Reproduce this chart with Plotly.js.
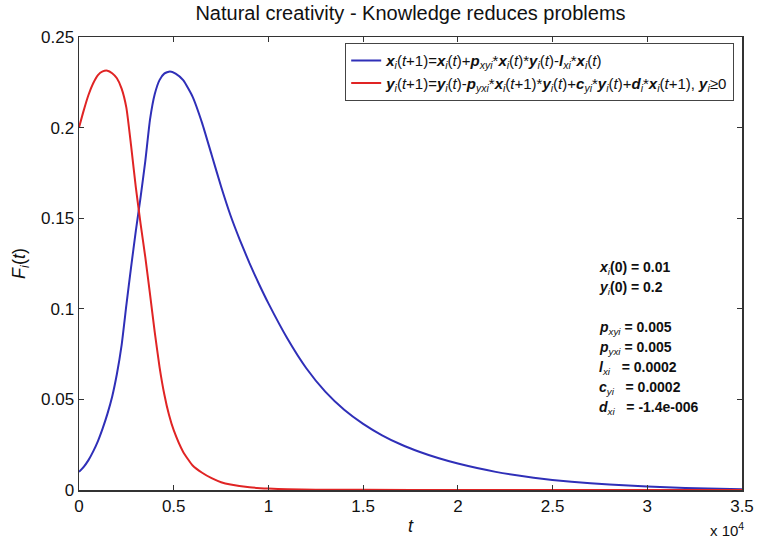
<!DOCTYPE html>
<html>
<head>
<meta charset="utf-8">
<script src="https://cdn.plot.ly/plotly-3.0.1.min.js"></script>
<style>html,body{margin:0;padding:0;background:#fff;}#chart{width:757px;height:542px;}</style>
</head>
<body>
<div id="chart"></div>
<script>
// time steps (t) and values
const tBlue = [0, 250, 500, 750, 1000, 1250, 1500, 1750, 2000, 2250, 2500, 2750, 3000, 3250, 3500, 3750, 4000, 4250, 4500, 4800, 5100, 5500, 6000, 6500, 7000, 7500, 8000, 8500, 9000, 9500, 10000, 11000, 12000, 13000, 14000, 15000, 16000, 17000, 18000, 19000, 20000, 22000, 24000, 26000, 28000, 30000, 32000, 35000];
const xBlue = [0.010, 0.0128, 0.0165, 0.0213, 0.0270, 0.0340, 0.0420, 0.0515, 0.0640, 0.0800, 0.1020, 0.1230, 0.1430, 0.1615, 0.1815, 0.2045, 0.2185, 0.2262, 0.2298, 0.2310, 0.2298, 0.2262, 0.2170, 0.2025, 0.1850, 0.1675, 0.1515, 0.1378, 0.1252, 0.1137, 0.1030, 0.0836, 0.0672, 0.0543, 0.0443, 0.0365, 0.0302, 0.0251, 0.0210, 0.0175, 0.0146, 0.0100, 0.0068, 0.0045, 0.0030, 0.0019, 0.0011, 0.0004];

const tRed = [0, 250, 500, 750, 1000, 1250, 1500, 1750, 2000, 2250, 2500, 2750, 3000, 3250, 3500, 3750, 4000, 4250, 4500, 4750, 5000, 5500, 6000, 6500, 7000, 7500, 8000, 9000, 10000, 11000, 12500, 15000, 20000, 27500, 35000];
const yRed = [0.200, 0.2095, 0.2180, 0.2245, 0.2290, 0.2310, 0.2314, 0.2300, 0.2272, 0.2215, 0.2110, 0.1900, 0.1670, 0.1470, 0.1285, 0.1080, 0.0870, 0.0680, 0.0530, 0.0415, 0.0330, 0.0210, 0.0135, 0.0095, 0.0065, 0.0043, 0.0030, 0.0015, 0.0008, 0.0004, 0.0002, 0.0001, 0, 0, 0];

const xTickVals = [0, 5000, 10000, 15000, 20000, 25000, 30000, 35000];
const xTickText = ['0', '0.5', '1', '1.5', '2', '2.5', '3', '3.5'];
const yTickVals = [0, 0.05, 0.1, 0.15, 0.2, 0.25];
const yTickText = ['0', '0.05', '0.1', '0.15', '0.2', '0.25'];

const legendX = '<b><i>x</i></b><sub><i>i</i></sub>(<i>t</i>+1)=<b><i>x</i></b><sub><i>i</i></sub>(<i>t</i>)+<b><i>p</i></b><sub><i>xyi</i></sub>*<b><i>x</i></b><sub><i>i</i></sub>(<i>t</i>)*<b><i>y</i></b><sub><i>i</i></sub>(<i>t</i>)-<b><i>l</i></b><sub><i>xi</i></sub>*<b><i>x</i></b><sub><i>i</i></sub>(<i>t</i>)';
const legendY = '<b><i>y</i></b><sub><i>i</i></sub>(<i>t</i>+1)=<b><i>y</i></b><sub><i>i</i></sub>(<i>t</i>)-<b><i>p</i></b><sub><i>yxi</i></sub>*<b><i>x</i></b><sub><i>i</i></sub>(<i>t</i>+1)*<b><i>y</i></b><sub><i>i</i></sub>(<i>t</i>)+<b><i>c</i></b><sub><i>yi</i></sub>*<b><i>y</i></b><sub><i>i</i></sub>(<i>t</i>)+<b><i>d</i></b><sub><i>i</i></sub>*<b><i>x</i></b><sub><i>i</i></sub>(<i>t</i>+1), <b><i>y</i></b><sub><i>i</i></sub>≥0';

const paramLines = [
  '<b><i>x</i></b><sub><i>i</i></sub><b>(0) = 0.01</b>',
  '<b><i>y</i></b><sub><i>i</i></sub><b>(0) = 0.2</b>',
  '',
  '<b><i>p</i></b><sub><i>xyi</i></sub><b> = 0.005</b>',
  '<b><i>p</i></b><sub><i>yxi</i></sub><b> = 0.005</b>',
  '<b><i>l</i></b><sub><i>xi</i></sub><b>   = 0.0002</b>',
  '<b><i>c</i></b><sub><i>yi</i></sub><b>   = 0.0002</b>',
  '<b><i>d</i></b><sub><i>xi</i></sub><b>   = -1.4e-006</b>'
];

const FONT = 'Liberation Sans, Arial, sans-serif';

const traces = [
  {x: tBlue, y: xBlue, type: 'scatter', mode: 'lines', name: legendX,
   line: {color: '#2f2fb8', width: 2, shape: 'spline', smoothing: 0.5}},
  {x: tRed, y: yRed, type: 'scatter', mode: 'lines', name: legendY,
   line: {color: '#e02424', width: 2, shape: 'spline', smoothing: 0.5}}
];

const annotations = [];
const top0 = 268, step = 20;
paramLines.forEach((s, i) => {
  if (!s) return;
  annotations.push({
    text: s.replace(/   /g, '&nbsp;&nbsp;&nbsp;'), xref: 'paper', yref: 'paper',
    x: (597 - 79) / 663, y: (490.5 - (top0 + i * step)) / 453.5,
    xanchor: 'left', yanchor: 'middle', showarrow: false,
    font: {family: FONT, size: 14, color: '#111'}
  });
});
annotations.push({
  text: 'x 10<sup>4</sup>', xref: 'paper', yref: 'paper',
  x: 1.006, y: (490.5 - 530) / 453.5, xanchor: 'right', yanchor: 'middle',
  showarrow: false, font: {family: FONT, size: 15, color: '#111'}
});

const layout = {
  width: 757, height: 542,
  margin: {l: 79, r: 15, t: 37, b: 51.5},
  paper_bgcolor: '#fff', plot_bgcolor: '#fff',
  font: {family: FONT, size: 17, color: '#111'},
  title: {text: 'Natural creativity - Knowledge reduces problems',
          font: {family: FONT, size: 20, color: '#111'},
          x: 0.5, xref: 'paper', xanchor: 'center', y: 1 - 12.5 / 542, yanchor: 'middle'},
  showlegend: true,
  legend: {x: (345 - 79) / 663, y: 1 - (43 - 37) / 453.5, xanchor: 'left', yanchor: 'top',
           bgcolor: '#fff', bordercolor: '#444', borderwidth: 1.2,
           font: {family: FONT, size: 15, color: '#111'}, tracegroupgap: 0,
           itemwidth: 30},
  xaxis: {range: [0, 35000], tickvals: xTickVals, ticktext: xTickText,
          ticks: 'inside', ticklen: 5, tickwidth: 1.2, tickcolor: '#333',
          showline: true, linecolor: '#333', linewidth: 1.5, mirror: 'ticks',
          showgrid: false, zeroline: false,
          tickfont: {family: FONT, size: 17, color: '#111'},
          title: {text: '<i>t</i>', font: {family: FONT, size: 18, color: '#111'}, standoff: 4}},
  yaxis: {range: [0, 0.25], tickvals: yTickVals, ticktext: yTickText,
          ticks: 'inside', ticklen: 5, tickwidth: 1.2, tickcolor: '#333',
          showline: true, linecolor: '#333', linewidth: 1.5, mirror: 'ticks',
          showgrid: false, zeroline: false,
          tickfont: {family: FONT, size: 17, color: '#111'},
          title: {text: '<i>F</i><sub><i>i</i></sub>(<i>t</i>)', font: {family: FONT, size: 18, color: '#111'}, standoff: 10}},
  annotations: annotations
};

Plotly.newPlot('chart', traces, layout, {displayModeBar: false, staticPlot: true});
</script>
</body>
</html>
